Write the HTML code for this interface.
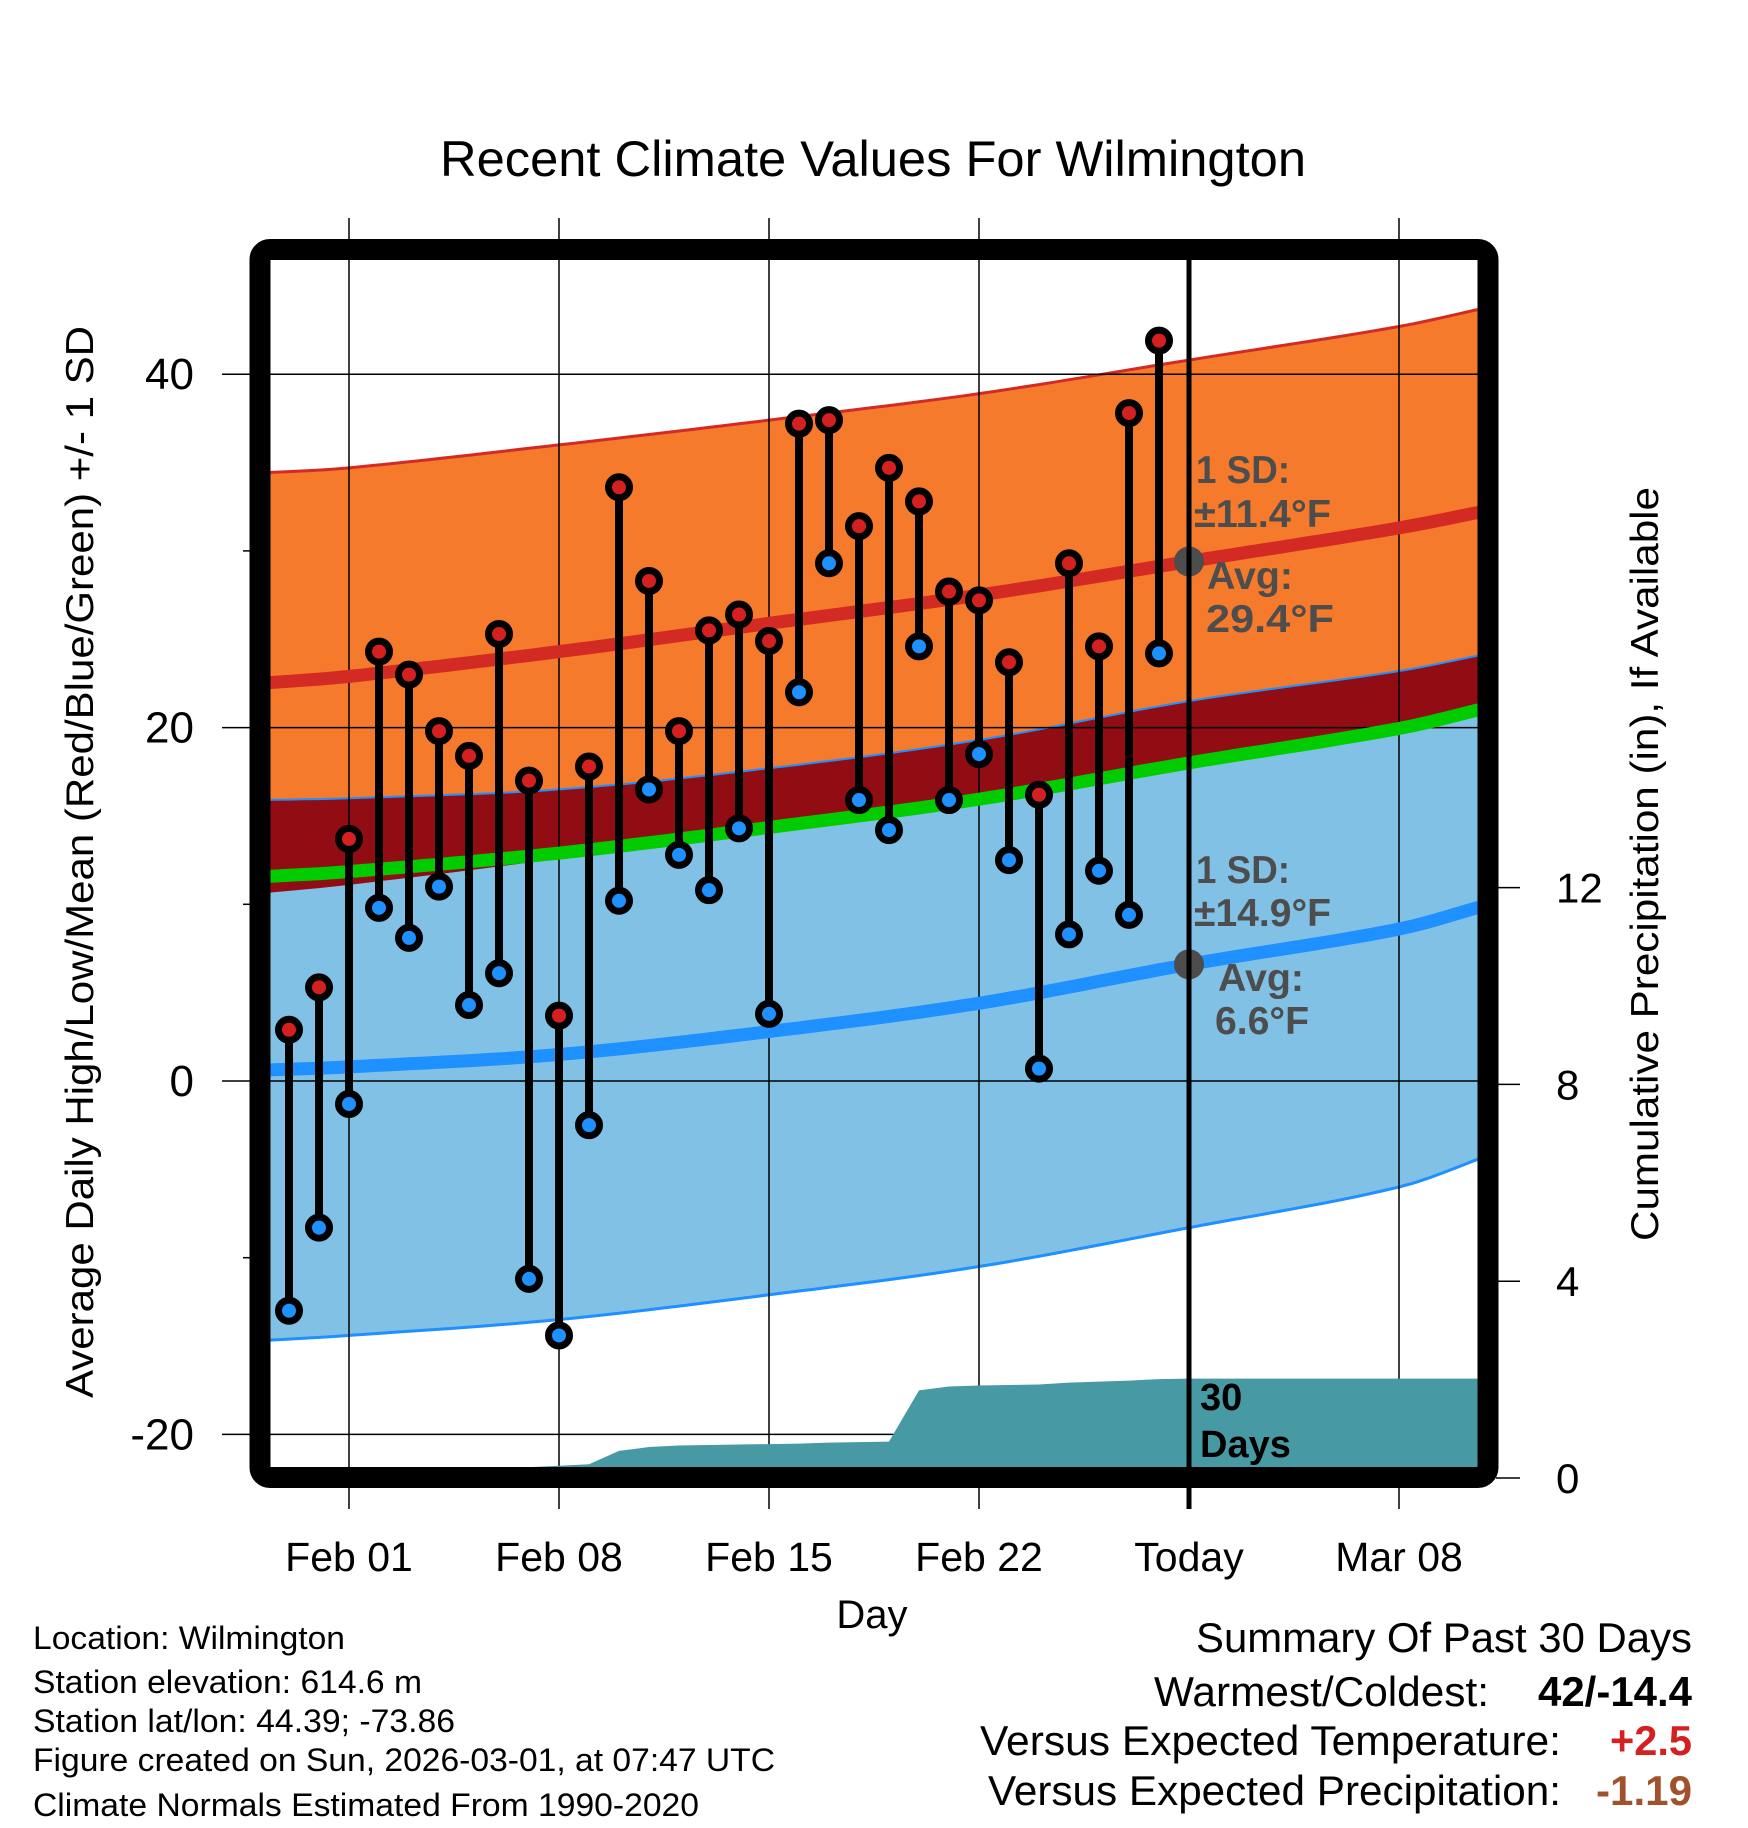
<!DOCTYPE html>
<html><head><meta charset="utf-8"><style>
html,body{margin:0;padding:0;background:#fff}
svg{display:block;font-family:"Liberation Sans",Arial,sans-serif}
</style></head><body>
<svg id="chart" width="1748" height="1828" viewBox="0 0 1748 1828" xmlns="http://www.w3.org/2000/svg">
<defs><clipPath id="plotclip"><rect x="270" y="260" width="1208" height="1207"/></clipPath></defs>
<rect x="0" y="0" width="1748" height="1828" fill="#fff"/>
<text x="873" y="176" font-size="50" text-anchor="middle" textLength="866" lengthAdjust="spacingAndGlyphs">Recent Climate Values For Wilmington</text>
<g id="bands" clip-path="url(#plotclip)"></g>
<g id="grid"></g>
<g id="precip" clip-path="url(#plotclip)"></g>
<g id="means" clip-path="url(#plotclip)"></g>
<g id="marks"></g>
<g id="annot"></g>
<rect x="260" y="249.5" width="1228" height="1228" rx="10" fill="none" stroke="#000" stroke-width="21"/>
<g id="axes"></g>
<text x="872" y="1628" font-size="40" text-anchor="middle">Day</text>
<text transform="translate(93,862) rotate(-90)" font-size="39" text-anchor="middle" textLength="1072" lengthAdjust="spacingAndGlyphs">Average Daily High/Low/Mean (Red/Blue/Green) +/- 1 SD</text>
<text transform="translate(1658,864) rotate(-90)" font-size="39" text-anchor="middle" textLength="754" lengthAdjust="spacingAndGlyphs">Cumulative Precipitation (in), If Available</text>
<g font-size="32">
<text x="33" y="1649" textLength="312" lengthAdjust="spacingAndGlyphs">Location: Wilmington</text>
<text x="33" y="1693" textLength="389" lengthAdjust="spacingAndGlyphs">Station elevation: 614.6 m</text>
<text x="33" y="1732" textLength="422" lengthAdjust="spacingAndGlyphs">Station lat/lon: 44.39; -73.86</text>
<text x="33" y="1771" textLength="742" lengthAdjust="spacingAndGlyphs">Figure created on Sun, 2026-03-01, at 07:47 UTC</text>
<text x="33" y="1816" textLength="666" lengthAdjust="spacingAndGlyphs">Climate Normals Estimated From 1990-2020</text>
</g>
<g font-size="42" text-anchor="end">
<text x="1692" y="1652" textLength="496" lengthAdjust="spacingAndGlyphs">Summary Of Past 30 Days</text>
<text x="1489" y="1706" textLength="335" lengthAdjust="spacingAndGlyphs">Warmest/Coldest:</text>
<text x="1692" y="1706" font-weight="bold" textLength="154" lengthAdjust="spacingAndGlyphs">42/-14.4</text>
<text x="1561" y="1755" textLength="581" lengthAdjust="spacingAndGlyphs">Versus Expected Temperature:</text>
<text x="1692" y="1755" font-weight="bold" fill="#d42020" textLength="82" lengthAdjust="spacingAndGlyphs">+2.5</text>
<text x="1561" y="1805" textLength="573" lengthAdjust="spacingAndGlyphs">Versus Expected Precipitation:</text>
<text x="1692" y="1805" font-weight="bold" fill="#a0522d" textLength="96" lengthAdjust="spacingAndGlyphs">-1.19</text>
</g>
</svg>
<script>
// ---- data ----
const days = [-2,-1,0,1,2,3,4,5,6,7,8,9,10,11,12,13,14,15,16,17,18,19,20,21,22,23,24,25,26,27];
const highs = [2.9,5.3,13.7,24.3,23.0,19.8,18.4,25.3,17.0,3.7,17.8,33.6,28.3,19.8,25.5,26.4,24.9,37.2,37.4,31.4,34.7,32.8,27.7,27.2,23.7,16.2,29.3,24.6,37.8,41.9];
const lows = [-13.0,-8.3,-1.3,9.8,8.1,11.0,4.3,6.1,-11.2,-14.4,-2.5,10.2,16.5,12.8,10.8,14.3,3.8,22.0,29.3,15.9,14.2,24.6,15.9,18.5,12.5,0.7,8.3,11.9,9.4,24.2];
const normDays = [-3,0,7,14,21,28,35,38];
const hiMean = [22.5,22.9,24.3,25.9,27.5,29.4,31.3,32.3];
const loMean = [0.6,0.8,1.5,2.8,4.4,6.6,8.6,10.0];
const hiSD = [11.9,11.8,11.7,11.5,11.4,11.4,11.4,11.5];
const loSD = [15.3,15.2,15.0,14.9,14.9,14.9,14.6,14.2];
const precipDays = [-2,-1,0,1,2,3,4,5,6,7,8,9,10,11,12,13,14,15,16,17,18,19,20,21,22,23,24,25,26,27,28,38];
const precipCum = [0,0,0,0,0,0,0,0,0.22,0.25,0.28,0.55,0.63,0.66,0.67,0.68,0.69,0.70,0.72,0.73,0.74,1.78,1.86,1.88,1.89,1.90,1.94,1.96,1.98,2.01,2.02,2.02];
const xTickDays = [0,7,14,21,28,35];
const xTickLabels = ["Feb 01","Feb 08","Feb 15","Feb 22","Today","Mar 08"];
const yTicks = [40,20,0,-20];
const yMinorTicks = [30,10,-10];
const y2Ticks = [0,4,8,12];
// ---- scales ----
const X = d => 349 + 30*d;
const Y = t => 1081 - 17.67*(t);
const Y2 = p => 1478 - 49.2*p;
const NS = "http://www.w3.org/2000/svg";
function mk(tag, attrs, parent){const e=document.createElementNS(NS,tag);for(const k in attrs)e.setAttribute(k,attrs[k]);parent.appendChild(e);return e;}
// smooth (Hermite) evaluation through knots
function smooth(xs, ys, x){
  const n=xs.length;
  if(x<=xs[0])return ys[0];
  if(x>=xs[n-1])return ys[n-1];
  let i=1;while(x>xs[i])i++;
  const x0=xs[i-1],x1=xs[i],y0=ys[i-1],y1=ys[i];
  const h=x1-x0,t=(x-x0)/h;
  const m=k=>{const a=Math.max(0,k-1),b=Math.min(n-1,k+1);return (ys[b]-ys[a])/(xs[b]-xs[a]);};
  const m0=m(i-1)*h,m1=m(i)*h;
  const t2=t*t,t3=t2*t;
  return (2*t3-3*t2+1)*y0+(t3-2*t2+t)*m0+(-2*t3+3*t2)*y1+(t3-t2)*m1;
}
const samples=[];for(let d=-3;d<=38.01;d+=0.5)samples.push(d);
const fHi=d=>smooth(normDays,hiMean,d);
const fLo=d=>smooth(normDays,loMean,d);
const fHiU=d=>fHi(d)+smooth(normDays,hiSD,d);
const fHiL=d=>fHi(d)-smooth(normDays,hiSD,d);
const fLoU=d=>fLo(d)+smooth(normDays,loSD,d);
const fLoL=d=>fLo(d)-smooth(normDays,loSD,d);
const fMid=d=>(fHi(d)+fLo(d))/2;
function line(f){return samples.map((d,i)=>(i?'L':'M')+X(d).toFixed(1)+','+Y(f(d)).toFixed(1)).join('');}
function band(fu,fl){return line(fu)+samples.slice().reverse().map(d=>'L'+X(d).toFixed(1)+','+Y(fl(d)).toFixed(1)).join('')+'Z';}
const bands=document.getElementById('bands');
let e;
e=mk('path',{d:band(fHiU,fHiL),fill:'#f57a2c'},bands);


e=mk('path',{d:band(fLoU,fLoL),fill:'#82c1e6'},bands);


e=mk('path',{d:band(fLoU,fHiL),fill:'#920c14'},bands);


e=mk('path',{d:line(fHiU),fill:'none',stroke:'#d42a24','stroke-width':3},bands);


e=mk('path',{d:line(fLoU),fill:'none',stroke:'#1e90ff','stroke-width':2},bands);


e=mk('path',{d:line(fLoL),fill:'none',stroke:'#1e90ff','stroke-width':3},bands);


// grid
const grid=document.getElementById('grid');
xTickDays.forEach((d,i)=>{
  const g=mk('line',{x1:X(d),x2:X(d),y1:218,y2:1509,stroke:'#000','stroke-width':i===4?0:1.5},grid);
  
  
});
yTicks.forEach(t=>{
  const g=mk('line',{x1:222,x2:1478,y1:Y(t),y2:Y(t),stroke:'#000','stroke-width':1.5},grid);
  
  
});
// precip
const pg=document.getElementById('precip');
let pd='M'+X(precipDays[0])+','+Y2(0);
precipDays.forEach((d,i)=>{pd+='L'+X(d)+','+Y2(precipCum[i]).toFixed(1);});
pd+='L'+X(precipDays[precipDays.length-1])+','+Y2(0)+'Z';
e=mk('path',{d:pd,fill:'#4799a3'},pg);


// means
const mg=document.getElementById('means');
e=mk('path',{d:line(fHi),fill:'none',stroke:'#d42a24','stroke-width':13},mg);


e=mk('path',{d:line(fLo),fill:'none',stroke:'#1e90ff','stroke-width':13},mg);


e=mk('path',{d:line(fMid),fill:'none',stroke:'#00cc00','stroke-width':13},mg);


// today line
e=mk('line',{x1:X(28),x2:X(28),y1:250,y2:1509,stroke:'#000','stroke-width':5},mg.parentNode);


// marks
const marks=document.getElementById('marks');
days.forEach((d,i)=>{
  const x=X(d);
  const s=mk('line',{x1:x,x2:x,y1:Y(highs[i]),y2:Y(lows[i]),stroke:'#000','stroke-width':8},marks);
  
  
});
days.forEach((d,i)=>{
  const x=X(d);
  const h=mk('circle',{cx:x,cy:Y(highs[i]),r:10.5,fill:'#d42020',stroke:'#000','stroke-width':7},marks);
  
  
  const l=mk('circle',{cx:x,cy:Y(lows[i]),r:10.5,fill:'#1e90ff',stroke:'#000','stroke-width':7},marks);
  
  
});
// annotations
const an=document.getElementById('annot');
e=mk('circle',{cx:X(28),cy:Y(29.4),r:15,fill:'#4d4d4d'},an);


e=mk('circle',{cx:X(28),cy:Y(6.6),r:15,fill:'#4d4d4d'},an);


const labels=[["1 SD:",1196,483,94],["±11.4°F",1194,527,137],["Avg:",1207,589,86],["29.4°F",1206,632,128],["1 SD:",1196,883,94],["±14.9°F",1194,926,137],["Avg:",1218,991,86],["6.6°F",1215,1034,94]];
labels.forEach(a=>{
  const t=mk('text',{x:a[1],y:a[2],'font-size':39,'font-weight':'bold',fill:'#4d4d4d',textLength:a[3],lengthAdjust:'spacingAndGlyphs'},an);
  t.textContent=a[0];
  
  
});
[["30",1200,1410],["Days",1200,1457]].forEach(a=>{
  const t=mk('text',{x:a[1],y:a[2],'font-size':38,'font-weight':'bold',fill:'#000'},an);
  t.textContent=a[0];
  
  
});
// axes
const ax=document.getElementById('axes');
xTickDays.forEach((d,i)=>{
  const t=mk('text',{x:X(d),y:1571,'font-size':41,'text-anchor':'middle'},ax);
  t.textContent=xTickLabels[i];
  
  
});
yTicks.forEach(v=>{
  const t=mk('text',{x:194,y:Y(v)+15,'font-size':44,'text-anchor':'end'},ax);
  t.textContent=v;
  
  
});
yMinorTicks.forEach(v=>{
  const m=mk('line',{x1:243,x2:252,y1:Y(v),y2:Y(v),stroke:'#000','stroke-width':1.5},ax);
  
  
});
y2Ticks.forEach(v=>{
  const m=mk('line',{x1:1496,x2:1520,y1:Y2(v),y2:Y2(v),stroke:'#000','stroke-width':1.5},ax);
  
  
  const t=mk('text',{x:1556,y:Y2(v)+15,'font-size':42},ax);
  t.textContent=v;
  
  
});
</script>
</body></html>
